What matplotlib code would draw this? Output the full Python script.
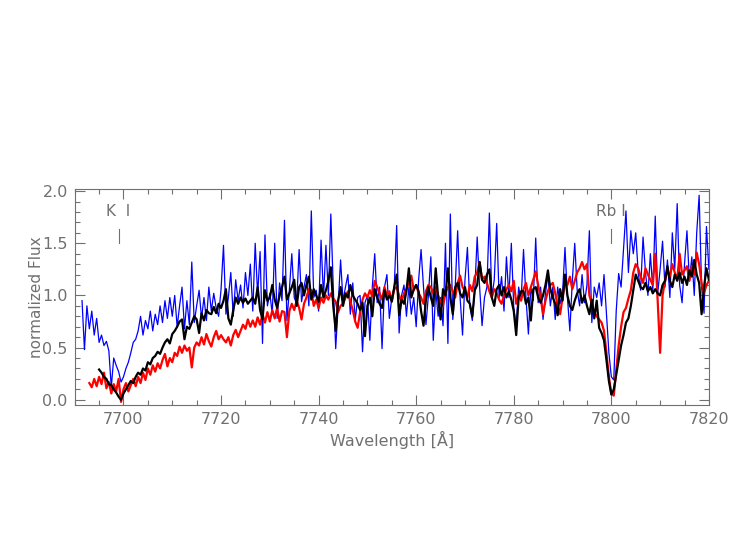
import numpy as np
import matplotlib
matplotlib.use("Agg")
import matplotlib.pyplot as plt
from matplotlib.ticker import MultipleLocator, FormatStrFormatter

# spectra sampled every 0.5 A, first wavelength given per series
blue_start = 7691.5
blue_flux = [
    0.95, 0.48, 0.90, 0.68, 0.85, 0.62, 0.78, 0.55, 0.62, 0.52,
    0.56, 0.47, 0.12, 0.40, 0.33, 0.27, 0.17, 0.22, 0.30, 0.36,
    0.45, 0.55, 0.58, 0.66, 0.80, 0.62, 0.76, 0.68, 0.85, 0.66,
    0.82, 0.72, 0.90, 0.74, 0.95, 0.78, 0.98, 0.80,
    1.00, 0.70, 0.90, 1.08, 0.68, 0.95, 0.72, 1.32, 0.74, 0.90,
    1.05, 0.78, 0.98, 0.76, 1.08, 0.85, 1.02, 0.88, 0.80, 1.06,
    1.48, 0.82, 0.98, 1.22, 0.80, 1.15, 0.95, 1.10, 0.88, 1.22,
    1.00, 1.30, 0.85,
    1.50, 1.00, 1.42, 0.54, 1.58, 0.90, 1.02, 0.82, 1.50, 0.78,
    1.12, 0.95, 1.72, 0.76, 1.05, 1.40, 0.98, 0.92, 1.44, 0.94,
    1.08, 1.20, 0.90, 1.81, 0.98, 1.05, 0.85, 1.53, 0.98, 1.48,
    1.00, 1.78, 1.08, 0.49, 0.90, 1.34, 0.95,
    1.08, 1.20, 0.82, 1.12, 0.76, 0.98, 1.00, 0.46, 0.93, 1.00,
    0.57, 1.08, 1.40, 0.93, 1.08, 0.49, 1.08, 1.20, 0.78, 0.98,
    1.08, 1.67, 0.64, 1.00, 1.10, 0.80, 1.08, 0.82, 0.98, 0.70,
    1.15, 1.44, 1.08, 0.72, 1.00, 1.37,
    0.57, 1.05, 0.80, 0.98, 0.71, 1.50, 0.54, 1.78, 0.77, 1.08,
    1.62, 0.98, 0.62, 1.15, 1.46, 0.90, 0.76, 1.04, 1.56, 1.08,
    0.71, 0.98, 1.08, 1.79, 0.98, 1.15, 1.69, 0.98, 1.18, 0.85,
    1.37, 0.98, 1.50, 0.88, 0.70, 1.08, 0.95,
    1.44, 0.98, 0.63, 1.08, 0.95, 1.55, 0.93, 1.08, 0.77, 1.02,
    1.20, 0.90, 1.08, 0.77, 1.08, 0.92, 1.02, 1.46, 0.98, 0.66,
    1.14, 1.50, 1.05, 0.90, 1.20, 0.93, 1.10, 1.62, 0.74, 1.08,
    0.98, 1.12, 0.90, 1.20, 0.83, 0.45, 0.22, 0.19, 0.85, 1.21,
    1.08, 1.45, 1.81, 1.22, 1.62, 1.40, 1.60, 1.22, 1.05, 1.56,
    1.22, 1.00, 1.40, 1.05, 1.76, 1.02, 1.25, 1.52, 1.08, 1.34,
    0.98, 1.60, 1.25, 1.88, 1.10, 0.93, 1.30, 1.62, 1.14, 1.37,
    1.00, 1.60, 1.96, 1.08, 0.83, 1.66, 1.25,
]

red_start = 7693.0
red_flux = [
    0.16, 0.12, 0.20, 0.13, 0.22, 0.15, 0.26, 0.11, 0.17, 0.06,
    0.15, 0.08, 0.20, -0.02, 0.10, 0.16, 0.08, 0.14, 0.20, 0.13,
    0.22, 0.16, 0.26, 0.19, 0.30, 0.24, 0.33, 0.27, 0.35, 0.30,
    0.38,
    0.44, 0.32, 0.40, 0.36, 0.45, 0.42, 0.51, 0.45, 0.52, 0.47,
    0.50, 0.31, 0.50, 0.55, 0.52, 0.60, 0.53, 0.63, 0.56, 0.51,
    0.60, 0.66, 0.58, 0.62, 0.58, 0.55, 0.60, 0.52, 0.62, 0.67,
    0.60, 0.66, 0.72, 0.68, 0.77, 0.70,
    0.76, 0.70, 0.79, 0.72, 0.82, 0.74, 0.84, 0.75, 0.86, 0.78,
    0.88, 0.75, 0.85, 0.84, 0.60, 0.85, 0.92, 0.86, 0.95, 0.88,
    0.77, 0.92, 0.98, 1.06, 1.05, 0.90, 0.96, 0.88, 0.98, 0.93,
    1.00, 0.96, 1.02, 0.97, 0.94, 0.84, 0.90, 0.92,
    0.98, 1.04, 0.94, 0.86, 0.75, 0.69, 0.84, 0.96, 1.02, 0.98,
    1.05, 0.99, 1.14, 1.08, 1.02, 0.96, 1.08, 1.00, 1.04, 0.95,
    1.06, 1.08, 1.00, 0.94, 1.02, 1.06, 1.12, 1.19, 1.05, 1.10,
    1.02, 0.98, 0.92, 1.04, 1.10, 1.08,
    1.02, 1.08, 1.00, 0.94, 0.90, 1.02, 1.08, 1.10, 1.04, 0.98,
    1.12, 1.19, 1.08, 1.04, 0.98, 1.10, 1.04, 1.18, 1.22, 1.32,
    1.15, 1.18, 1.12, 1.04, 0.98, 1.06, 1.02, 0.96, 0.92, 1.00,
    1.06, 1.10, 1.04, 1.14, 0.92, 1.00, 0.95,
    1.06, 1.12, 1.00, 1.08, 1.15, 1.23, 1.10, 0.98, 0.82, 0.95,
    1.04, 1.10, 1.12, 1.02, 0.90, 0.82, 0.98, 1.12, 1.10, 1.18,
    1.06, 1.14, 1.22, 1.26, 1.32, 1.25, 1.30, 1.00, 0.92, 0.84,
    0.80, 0.77, 0.74, 0.66, 0.45, 0.22, 0.06, 0.04, 0.28, 0.52,
    0.70, 0.84, 0.88, 0.97, 1.05, 1.22, 1.30,
    1.26, 1.18, 1.12, 1.26, 1.20, 1.15, 1.10, 1.40, 0.95, 0.45,
    1.00, 1.14, 1.24, 1.18, 1.30, 1.22, 1.15, 1.40, 1.20, 1.24,
    1.28, 1.14, 1.28, 1.20, 1.41, 1.30, 1.12, 1.02, 1.10, 1.14,
]

black_start = 7695.0
black_flux = [
    0.29, 0.26, 0.22, 0.20, 0.15, 0.14, 0.10, 0.07, 0.03, 0.00,
    0.06, 0.10, 0.14, 0.18, 0.16, 0.22, 0.26, 0.24, 0.30, 0.28,
    0.36, 0.34, 0.40, 0.42, 0.46, 0.44, 0.50,
    0.55, 0.58, 0.54, 0.63, 0.66, 0.70, 0.75, 0.77, 0.58, 0.70,
    0.68, 0.74, 0.80, 0.77, 0.64, 0.83, 0.76, 0.86, 0.83, 0.82,
    0.89, 0.83, 0.92, 0.88, 0.95, 1.06, 0.78, 0.72, 0.86, 0.98,
    0.92, 0.98, 0.93, 0.97, 0.92, 0.95,
    0.98, 0.92, 1.08, 0.86, 0.77, 1.05, 0.95, 0.98, 1.10, 0.96,
    0.88, 1.00, 1.08, 1.18, 0.96, 1.02, 1.08, 1.15, 0.90, 1.08,
    1.12, 1.00, 1.10, 1.18, 0.96, 1.06, 1.00, 0.94, 1.10, 0.98,
    1.05, 1.14, 1.27, 0.90, 0.66, 0.95, 1.08, 0.90,
    1.02, 0.98, 1.10, 1.00, 0.96, 0.92, 0.86, 0.93, 0.61, 0.90,
    0.98, 0.80, 1.06, 0.98, 0.92, 0.88, 1.05, 0.96, 1.00, 0.94,
    1.08, 1.20, 0.81, 0.96, 0.92, 1.04, 1.26, 0.98, 1.06, 1.10,
    1.04, 0.85, 0.71, 0.96, 1.08, 0.98,
    0.90, 1.26, 0.98, 0.77, 1.06, 1.00, 1.26, 0.98, 0.82, 1.08,
    1.12, 1.02, 0.98, 1.08, 0.95, 0.92, 0.80, 1.05, 1.10, 1.32,
    1.15, 1.12, 1.20, 1.25, 0.98, 0.90, 1.06, 1.10, 1.00, 1.08,
    0.98, 1.04, 0.96, 0.85, 0.62, 0.98, 1.04,
    1.04, 0.92, 0.98, 0.76, 1.06, 1.08, 0.98, 0.93, 1.00, 1.10,
    1.24, 1.06, 0.98, 0.92, 0.81, 1.06, 0.95, 1.20, 1.00, 0.90,
    0.86, 0.95, 1.02, 1.06, 0.93, 1.00, 0.90, 0.82, 0.96, 0.78,
    0.95, 0.69, 0.64, 0.57, 0.38, 0.18, 0.05, 0.10, 0.24, 0.38,
    0.52, 0.62, 0.74, 0.78, 0.90, 1.05, 1.20,
    1.14, 1.08, 1.06, 1.12, 1.04, 1.08, 1.02, 1.06, 1.02, 1.00,
    1.10, 1.14, 1.28, 1.14, 1.08, 1.20, 1.14, 1.22, 1.12, 1.18,
    1.10, 1.24, 1.18, 1.34, 1.20, 1.12, 0.82, 1.08, 1.26, 1.15,
]

line_labels = ["K  I", "Rb I"]
line_waves = [7699.0, 7800.0]

step = 0.5
blue_wave = blue_start + step * np.arange(len(blue_flux))
red_wave = red_start + step * np.arange(len(red_flux))
black_wave = black_start + step * np.arange(len(black_flux))

grey = "#707070"
plt.rcParams["font.family"] = "DejaVu Sans"

fig = plt.figure(figsize=(7.47, 5.40), dpi=100)
ax = fig.add_axes([0.100, 0.250, 0.849, 0.400])

ax.plot(blue_wave, blue_flux, color="#0000ff", linewidth=0.9)
ax.plot(red_wave, red_flux, color="#ff0000", linewidth=1.6)
ax.plot(black_wave, black_flux, color="black", linewidth=1.6)

for lab, w in zip(line_labels, line_waves):
    ax.text(w, 1.80, lab, color=grey, fontsize=11, ha="center", va="center")
    ax.plot([w, w], [1.50, 1.64], color=grey, linewidth=0.8)

ax.set_xlim(7690, 7820)
ax.set_ylim(-0.05, 2.02)
ax.xaxis.set_major_locator(MultipleLocator(20))
ax.xaxis.set_minor_locator(MultipleLocator(5))
ax.yaxis.set_major_locator(MultipleLocator(0.5))
ax.yaxis.set_minor_locator(MultipleLocator(0.1))
ax.yaxis.set_major_formatter(FormatStrFormatter("%.1f"))

ax.tick_params(which="both", direction="in", top=True, right=True,
               colors=grey, labelsize=11.5, width=0.8)
ax.tick_params(which="major", length=7, pad=5)
ax.tick_params(which="minor", length=3.5)
for sp in ax.spines.values():
    sp.set_color(grey)
    sp.set_linewidth(0.8)

ax.set_xlabel("Wavelength [Å]", color=grey, fontsize=11.5, labelpad=3)
ax.set_ylabel("normalized Flux", color=grey, fontsize=11, labelpad=-1)

fig.savefig("out.png", dpi=100)
